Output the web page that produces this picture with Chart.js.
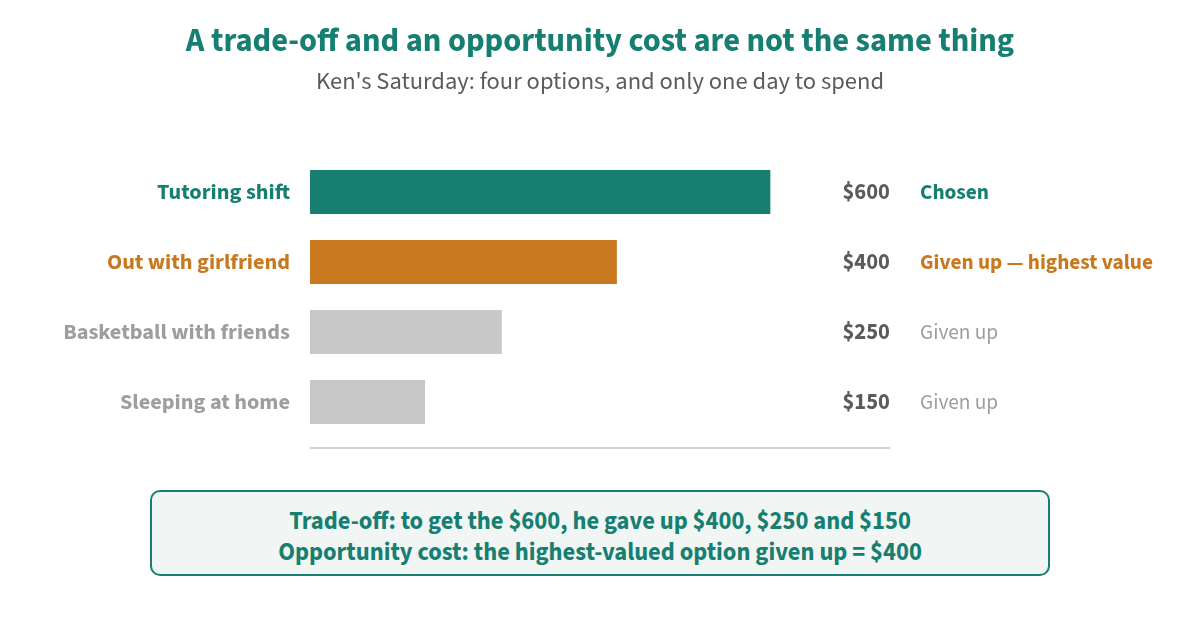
<!DOCTYPE html>
<html>
<head>
<meta charset="utf-8">
<script src="https://cdn.jsdelivr.net/npm/chart.js@4.4.1/dist/chart.umd.min.js"></script>
<style>
  html, body { margin: 0; padding: 0; background: #fff; }
  body { width: 1200px; height: 620px; position: relative; overflow: hidden;
         font-family: "Source Sans 3", "Source Sans Pro", Lato, "Noto Sans", sans-serif; }
  #title { position: absolute; left: 0; width: 1200px; top: 20px; text-align: center;
           font-size: 32.5px; font-weight: 700; color: #167f71; line-height: 42px; }
  #sub { position: absolute; left: 0; width: 1200px; top: 66px; text-align: center;
         font-size: 24.5px; color: #5b5b5b; line-height: 32px; }
  #chartBox { position: absolute; left: 0; top: 0; width: 1200px; height: 620px; }
  #note { position: absolute; left: 150px; top: 490px; width: 896px; height: 68px;
          border: 2px solid #167f71; border-radius: 10px; background: #f1f5f3;
          color: #167f71; font-weight: 700; font-size: 24.5px; text-align: center;
          line-height: 31px; padding-top: 14px; }
</style>
</head>
<body>
<div id="chartBox"><canvas id="myChart" width="1200" height="620"></canvas></div>
<div id="title">A trade-off and an opportunity cost are not the same thing</div>
<div id="sub">Ken's Saturday: four options, and only one day to spend</div>
<div id="note">Trade-off: to get the $600, he gave up $400, $250 and $150<br>Opportunity cost: the highest-valued option given up = $400</div>

<script>
// Ken's options and what each one is worth
const options = ["Tutoring shift", "Out with girlfriend", "Basketball with friends", "Sleeping at home"];
const values = [600, 400, 250, 150];
const valueLabels = ["$600", "$400", "$250", "$150"];
const statuses = ["Chosen", "Given up \u2014 highest value", "Given up", "Given up"];

// colour per option: chosen, best given up, the rest
const barColors = ["#167f71", "#c8781e", "#c8c8c8", "#c8c8c8"];
const labelColors = ["#167f71", "#c8781e", "#9e9e9e", "#9e9e9e"];
const statusColors = ["#167f71", "#c8781e", "#9e9e9e", "#9e9e9e"];

const fontFamily = '"Source Sans 3", "Source Sans Pro", Lato, "Noto Sans", sans-serif';

// draws the baseline plus the $ value and status text next to every bar
const sideText = {
  id: "sideText",
  afterDatasetsDraw(chart) {
    const ctx = chart.ctx;
    const area = chart.chartArea;
    const yScale = chart.scales.y;
    ctx.save();
    ctx.strokeStyle = "#d6d3ce";
    ctx.lineWidth = 2;
    ctx.beginPath();
    ctx.moveTo(area.left, area.bottom + 11);
    ctx.lineTo(area.right, area.bottom + 11);
    ctx.stroke();

    ctx.textBaseline = "middle";
    for (let i = 0; i < options.length; i++) {
      let y = yScale.getPixelForValue(i) + 2;
      ctx.font = "700 22.5px " + fontFamily;
      ctx.fillStyle = "#5b5b5b";
      ctx.textAlign = "right";
      ctx.fillText(valueLabels[i], area.right, y);

      ctx.font = (i < 2 ? "700 " : "400 ") + "21.3px " + fontFamily;
      ctx.fillStyle = statusColors[i];
      ctx.textAlign = "left";
      ctx.fillText(statuses[i], area.right + 30, y);
    }
    ctx.restore();
  }
};

const ctx = document.getElementById("myChart");
const myChart = new Chart(ctx, {
  type: "bar",
  data: {
    labels: options,
    datasets: [
      {
        data: values,
        backgroundColor: barColors,
        borderWidth: 0,
        barPercentage: 0.63,
        categoryPercentage: 1
      }
    ]
  },
  options: {
    indexAxis: "y",
    responsive: false,
    animation: false,
    events: [],
    layout: { padding: { left: 0, right: 310, top: 157, bottom: 183 } },
    plugins: {
      legend: { display: false },
      tooltip: { enabled: false }
    },
    scales: {
      x: {
        display: false,
        min: 0,
        max: 756
      },
      y: {
        afterFit: s => { s.width = 310; },
        grid: { display: false, drawTicks: false },
        border: { display: false },
        ticks: {
          padding: 20,
          labelOffset: 2,
          color: c => labelColors[c.index],
          font: { family: fontFamily, size: 22.3, weight: "700" }
        }
      }
    }
  },
  plugins: [sideText]
});
</script>
</body>
</html>
